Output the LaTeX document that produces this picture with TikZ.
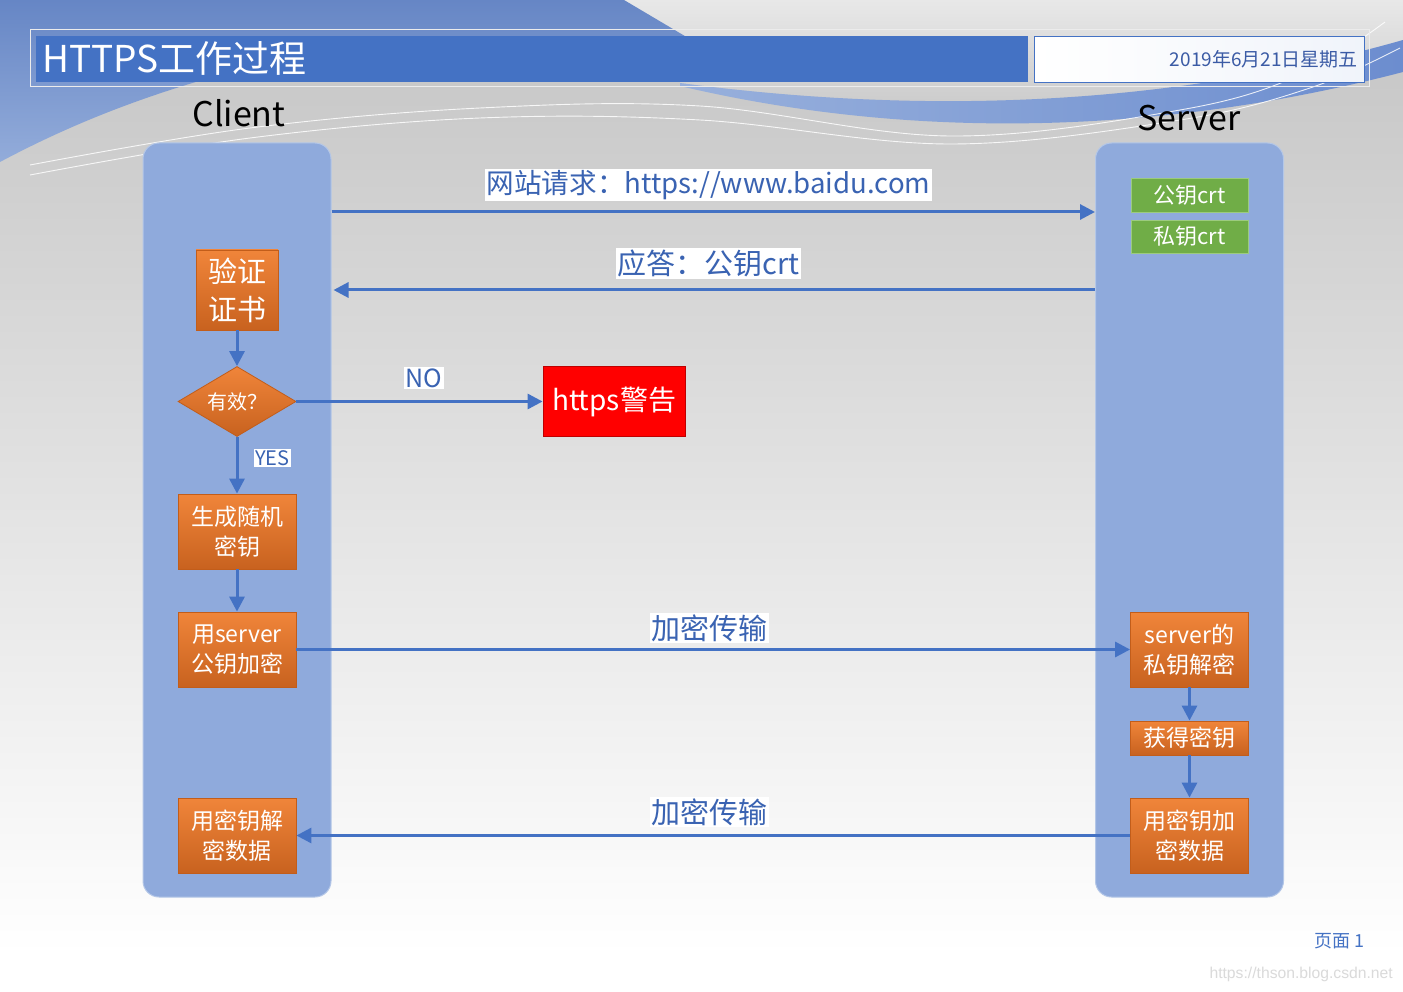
\documentclass[tikz,border=0pt]{standalone}
\usepackage{fontspec}
\setmainfont{Noto Sans CJK SC}
\newfontfamily\wmfont{Liberation Sans}
\usetikzlibrary{shapes.geometric,arrows.meta}
\definecolor{ablue}{HTML}{4472C4}
\definecolor{lanefill}{HTML}{8FAADC}
\definecolor{laneedge}{HTML}{B4C7E7}
\definecolor{ogtop}{HTML}{F0853A}
\definecolor{ogbot}{HTML}{C8621F}
\definecolor{ogline}{HTML}{C25D1A}
\definecolor{grn}{HTML}{70AD47}
\definecolor{grnedge}{HTML}{9CCB7E}
\definecolor{lbltext}{HTML}{3A63B2}
\definecolor{datetext}{HTML}{3B5BA5}
\definecolor{bgtop}{HTML}{C4C4C4}
\definecolor{bgmid}{HTML}{D4D4D4}
\definecolor{bluetop}{HTML}{6686C5}
\definecolor{bluebot}{HTML}{93ACDA}
\definecolor{bandl}{HTML}{98B0DC}
\definecolor{bandr}{HTML}{6C8DCF}
\definecolor{lighttop}{HTML}{E8E8E8}
\definecolor{lightbot}{HTML}{CACACA}
\definecolor{wmgray}{HTML}{DADADA}
\begin{document}
\begin{tikzpicture}[x=1pt,y=-1pt,
  lanebox/.style={draw=laneedge,line width=1pt,fill=lanefill,rounded corners=16pt,minimum width=188pt,minimum height=754pt,inner sep=0pt},
  obox/.style={draw=ogline,line width=0.8pt,top color=ogtop,bottom color=ogbot,text=white,inner sep=0pt,minimum width=118pt,minimum height=75pt,align=center,font=\fontsize{23}{30}\selectfont},
  gbox/.style={draw=grnedge,line width=0.8pt,fill=grn,text=white,inner sep=0pt,minimum width=117pt,minimum height=34pt,font=\fontsize{22}{26}\selectfont},
  lbl/.style={fill=white,text=lbltext,inner sep=1.5pt,font=\fontsize{29}{34}\selectfont},
  conn/.style={draw=ablue,line width=3pt,-{Triangle[length=15pt,width=15pt]}},
  wline/.style={draw=white,line width=0.9pt,opacity=0.85}
]
\useasboundingbox (0,0) rectangle (1403,992);
% background
\fill[white] (0,0) rectangle (1403,992);
\shade[top color=bgtop,middle color=bgmid,bottom color=white] (0,0) rectangle (1403,955);
% light top-right region
\shade[top color=lighttop,bottom color=lightbot] (620,0) -- (1403,0) -- (1403,42) .. controls (1150,112) and (900,112) .. (680,83) -- (680,45) -- cycle;
% blue top-left region
\shade[top color=bluetop,bottom color=bluebot] (0,0) -- (624,0) -- (700,45) -- (700,60) -- (220,75) .. controls (130,100) and (60,130) .. (0,162) -- cycle;
% blue swoosh band
\shade[left color=bandl,right color=bandr] (680,83) .. controls (900,112) and (1150,112) .. (1403,40) -- (1403,72) .. controls (1150,138) and (900,138) .. (680,86) -- cycle;
% white thin curves
\draw[wline] plot[smooth,tension=0.6] coordinates {(30,165) (250,128) (480,108) (700,106) (950,136) (1180,110) (1300,75) (1385,22)};
\draw[wline] plot[smooth,tension=0.6] coordinates {(30,175) (250,138) (480,118) (700,120) (950,144) (1180,120) (1310,88) (1400,48)};
% title area
\draw[draw=white!85!gray,line width=1pt] (30,30) rectangle (1369,87);
\node[fill=ablue,minimum width=992pt,minimum height=46pt,inner sep=0pt,anchor=north west] (titlebar) at (36,36) {};
\node[anchor=west,text=white,font=\fontsize{37}{40}\selectfont,inner sep=0pt] (title) at (42,58) {HTTPS工作过程};
\node[draw=ablue,line width=1pt,left color=white,right color=white!92!ablue,minimum width=330pt,minimum height=46pt,inner sep=0pt,anchor=north west] (datebox) at (1034,36) {};
\node[anchor=east,text=datetext,font=\fontsize{19}{22}\selectfont,inner sep=0pt] (date) at (1358,59) {2019年6月21日星期五};
% lane titles
\node[font=\fontsize{34}{38}\selectfont,inner sep=0pt] (client) at (239,113) {Client};
\node[font=\fontsize{34}{38}\selectfont,inner sep=0pt] (server) at (1189,118) {Server};
% lanes
\node[lanebox] (clane) at (237,520) {};
\node[lanebox] (slane) at (1189.5,520) {};
% server key boxes
\node[gbox] (pubcrt) at (1189.5,195) {公钥crt};
\node[gbox,minimum height=33pt] (pricrt) at (1189.5,236.5) {私钥crt};
% client flow
\node[obox,minimum width=82pt,minimum height=80pt,font=\fontsize{29}{38}\selectfont] (verify) at (237,290) {验证\\证书};
\node[diamond,draw=ogline,line width=0.8pt,top color=ogtop,bottom color=ogbot,text=white,inner sep=0pt,shape aspect=1.7,minimum width=118pt,minimum height=70pt,font=\fontsize{20}{24}\selectfont] (valid) at (237,401.5) {有效？};
\node[obox] (genkey) at (237,531.5) {生成随机\\密钥};
\node[obox] (encpub) at (237,649.5) {用server\\公钥加密};
\node[obox] (cdec) at (237,835.5) {用密钥解\\密数据};
% warning
\node[draw=red!75!black,line width=0.8pt,fill=red,text=white,minimum width=142pt,minimum height=70pt,inner sep=0pt,font=\fontsize{28}{32}\selectfont] (warn) at (614,401.5) {https警告};
% server flow
\node[obox] (sdec) at (1189.5,649.5) {server的\\私钥解密};
\node[obox,minimum height=34pt] (getkey) at (1189.5,738) {获得密钥};
\node[obox] (senc) at (1189.5,835.5) {用密钥加\\密数据};
% connectors
\coordinate (reqy) at (0,212);
\coordinate (resy) at (0,290);
\draw[conn] (clane.east |- reqy) -- (slane.west |- reqy);
\draw[conn] (slane.west |- resy) -- ([xshift=2pt]clane.east |- resy);
\draw[conn] (verify.south) -- (valid.north);
\draw[conn] (valid.east) -- (warn.west);
\draw[conn] (valid.south) -- (genkey.north);
\draw[conn] (genkey.south) -- (encpub.north);
\draw[conn] (encpub.east) -- (sdec.west);
\draw[conn] (sdec.south) -- (getkey.north);
\draw[conn] (getkey.south) -- (senc.north);
\draw[conn] (senc.west) -- (cdec.east);
% labels
\node[lbl,font=\fontsize{27.6}{32}\selectfont] (lreq) at (708.5,185) {网站请求：https://www.baidu.com};
\node[lbl] (lres) at (708.5,263.5) {应答：公钥crt};
\node[lbl,font=\fontsize{25}{28}\selectfont] (lno) at (424,378) {NO};
\node[lbl,font=\fontsize{20}{24}\selectfont,inner sep=1pt] (lyes) at (272.5,458) {YES};
\node[lbl] (lenc1) at (709,628) {加密传输};
\node[lbl] (lenc2) at (709,812) {加密传输};
% footer
\node[anchor=east,text=ablue,font=\fontsize{18}{20}\selectfont,inner sep=0pt] (page) at (1365,941) {页面 1};
\node[anchor=east,text=wmgray,font=\wmfont\fontsize{15.7}{18}\selectfont,inner sep=0pt] (wm) at (1393,974) {https://thson.blog.csdn.net};
\end{tikzpicture}
\end{document}
